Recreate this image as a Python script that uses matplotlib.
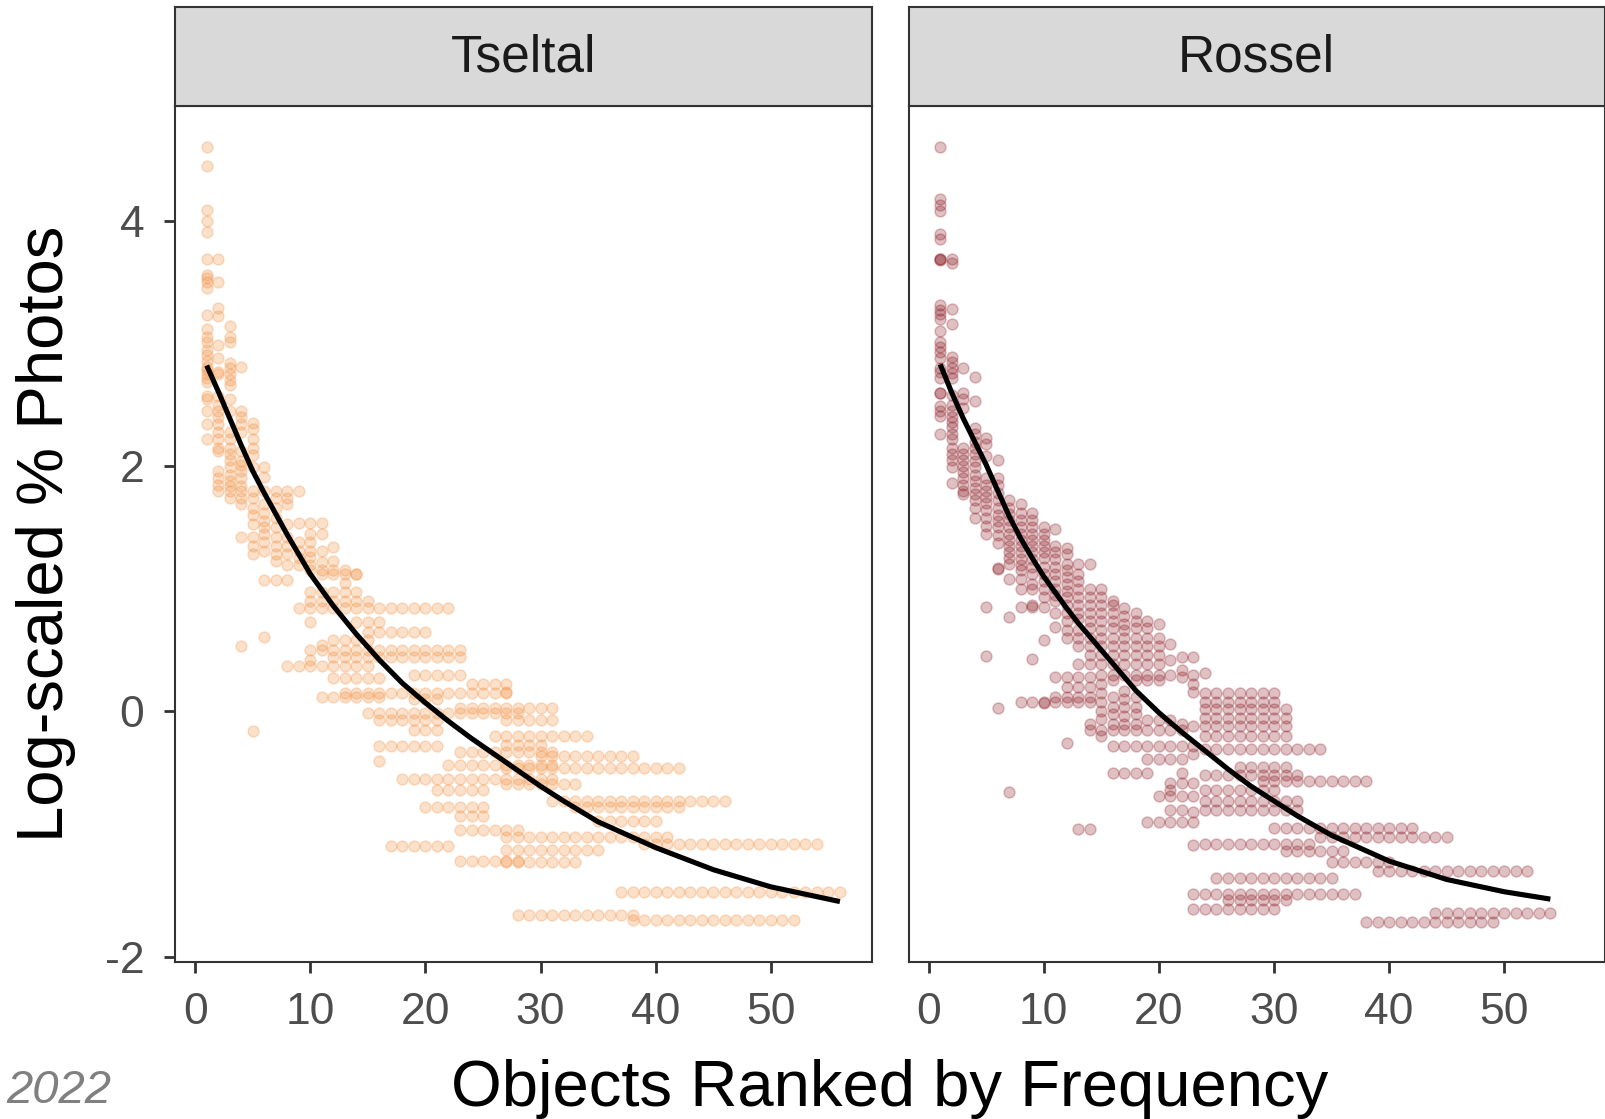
import matplotlib.pyplot as plt

plt.rcParams['font.family'] = ['Liberation Sans', 'DejaVu Sans']
plt.rcParams['axes.unicode_minus'] = False

panel_names = ['Tseltal', 'Rossel']
point_colors = ['#F3954A', '#8B1A22']
point_alpha = [0.29, 0.27]
x_ticks = [0, 10, 20, 30, 40, 50]
y_ticks = [-2, 0, 2, 4]

# Tseltal: vertical stacks for the first ranks (index 0 = rank 1)
tseltal_cols = [
    [4.60, 4.45, 4.09, 4.00, 3.91, 3.69, 3.56, 3.53, 3.50, 3.45, 3.23, 3.12, 3.05, 3.01,
     2.95, 2.91, 2.86, 2.81, 2.78, 2.75, 2.72, 2.69, 2.57, 2.55, 2.45, 2.34, 2.22],
    [3.69, 3.50, 3.29, 3.22, 2.99, 2.88, 2.77, 2.75, 2.57, 2.50, 2.45, 2.40, 2.34, 2.28,
     2.22, 2.15, 2.12, 1.96, 1.90, 1.85, 1.80],
    [3.14, 3.05, 3.01, 2.84, 2.80, 2.75, 2.70, 2.66, 2.55, 2.45, 2.28, 2.22, 2.15, 2.10,
     2.05, 1.99, 1.93, 1.88, 1.84, 1.80, 1.74],
    [2.81, 2.45, 2.40, 2.34, 2.28, 2.12, 2.04, 2.01, 1.96, 1.90, 1.84, 1.80, 1.74, 1.69,
     1.42, 0.53],
    [2.35, 2.30, 2.22, 2.15, 2.09, 1.99, 1.80, 1.74, 1.66, 1.60, 1.53, 1.42, 1.35, 1.28, -0.16],
    [1.99, 1.91, 1.80, 1.69, 1.62, 1.55, 1.50, 1.45, 1.38, 1.31, 1.07, 0.61],
    [1.80, 1.74, 1.66, 1.58, 1.50, 1.42, 1.35, 1.28, 1.23, 1.07],
    [1.80, 1.74, 1.69, 1.53, 1.42, 1.35, 1.28, 1.19, 1.07],
    [1.80, 1.54, 1.38, 1.31, 1.25, 1.19],
    [1.54, 1.45, 1.38, 1.31, 1.26, 1.19, 1.15, 0.97, 0.90, 0.73, 0.42],
    [1.54, 1.45, 1.31, 1.22, 1.15, 1.12, 0.97, 0.90, 0.54],
    [1.34, 1.23, 1.15, 1.12, 0.97, 0.90, 0.58],
    [1.15, 1.12, 1.05, 0.97, 0.90, 0.58],
    [1.12, 1.12, 0.97, 0.90, 0.73, 0.58],
    [0.90, 0.73, 0.58],
    [0.73],
]
# Tseltal: horizontal runs of tied values (value, first rank, last rank)
tseltal_rows = [
    (0.84, 9, 22), (0.65, 15, 20), (0.50, 10, 23), (0.44, 12, 23), (0.37, 8, 15),
    (0.30, 19, 23), (0.27, 12, 16), (0.22, 24, 27), (0.16, 27, 27), (0.15, 13, 27),
    (0.12, 11, 16), (0.10, 19, 21), (0.03, 23, 31), (-0.01, 15, 28), (-0.07, 16, 21),
    (-0.07, 27, 31), (-0.15, 19, 21), (-0.20, 26, 34), (-0.27, 27, 30), (-0.28, 16, 21),
    (-0.33, 23, 31), (-0.36, 30, 38), (-0.40, 16, 16), (-0.44, 22, 31), (-0.46, 27, 42),
    (-0.55, 18, 31), (-0.59, 27, 33), (-0.64, 21, 25), (-0.73, 31, 46), (-0.78, 20, 25),
    (-0.78, 33, 42), (-0.85, 23, 25), (-0.89, 35, 40), (-0.97, 23, 28), (-1.02, 27, 41),
    (-1.08, 39, 54), (-1.10, 17, 22), (-1.13, 27, 35), (-1.22, 23, 28), (-1.23, 27, 33),
    (-1.47, 37, 56), (-1.66, 28, 38), (-1.70, 38, 52),
]
tseltal_fit_rank = [1, 2, 3, 4, 5, 6, 7, 8, 9, 10, 12, 14, 16, 18, 20, 22, 24, 26, 28,
                    30, 32, 35, 40, 45, 50, 56]
tseltal_fit = [2.82, 2.61, 2.39, 2.17, 1.96, 1.78, 1.61, 1.44, 1.28, 1.12, 0.86, 0.63,
               0.42, 0.23, 0.07, -0.08, -0.22, -0.35, -0.48, -0.61, -0.73, -0.90,
               -1.11, -1.29, -1.43, -1.55]

# Rossel
rossel_cols = [
    [4.60, 4.18, 4.13, 4.08, 3.89, 3.85, 3.69, 3.69, 3.68, 3.31, 3.27, 3.24, 3.20, 3.10,
     3.01, 2.97, 2.93, 2.88, 2.80, 2.77, 2.72, 2.60, 2.60, 2.49, 2.45, 2.41, 2.26],
    [3.69, 3.66, 3.28, 3.16, 2.89, 2.85, 2.80, 2.76, 2.72, 2.58, 2.50, 2.45, 2.40, 2.36,
     2.32, 2.26, 2.22, 2.15, 2.10, 2.05, 1.99, 1.86],
    [2.80, 2.60, 2.55, 2.47, 2.15, 2.10, 2.05, 2.00, 1.95, 1.90, 1.85, 1.80, 1.77],
    [2.73, 2.53, 2.31, 2.26, 2.20, 2.15, 2.10, 2.04, 1.99, 1.93, 1.88, 1.82, 1.77, 1.72,
     1.66, 1.58],
    [2.23, 2.18, 2.08, 1.90, 1.85, 1.80, 1.75, 1.70, 1.64, 1.58, 1.51, 1.45, 0.85, 0.45],
    [2.05, 1.90, 1.85, 1.78, 1.72, 1.66, 1.60, 1.55, 1.50, 1.44, 1.37, 1.17, 1.16, 0.03],
    [1.72, 1.66, 1.61, 1.56, 1.50, 1.45, 1.40, 1.35, 1.30, 1.25, 1.20, 1.08, 0.77, -0.66],
    [1.69, 1.62, 1.56, 1.50, 1.45, 1.40, 1.35, 1.30, 1.24, 1.19, 1.15, 1.08, 1.00, 0.85, 0.08],
    [1.62, 1.56, 1.50, 1.45, 1.40, 1.35, 1.30, 1.24, 1.18, 1.12, 1.04, 1.00, 0.87, 0.85,
     0.43, 0.08],
    [1.50, 1.45, 1.40, 1.35, 1.30, 1.25, 1.18, 1.12, 1.06, 1.00, 0.93, 0.85, 0.58, 0.08, 0.07],
    [1.49, 1.35, 1.30, 1.24, 1.18, 1.12, 1.06, 1.00, 0.95, 0.90, 0.80, 0.69, 0.28, 0.12, 0.08],
    [1.33, 1.28, 1.20, 1.15, 1.10, 1.04, 0.98, 0.93, 0.87, 0.80, 0.74, 0.66, 0.60, 0.28,
     0.20, 0.12, 0.08, -0.26],
    [1.20, 1.12, 1.06, 1.00, 0.93, 0.87, 0.80, 0.75, 0.66, 0.60, 0.53, 0.39, 0.28, 0.20,
     0.12, 0.08, -0.96],
    [1.20, 1.00, 0.93, 0.87, 0.80, 0.74, 0.68, 0.60, 0.53, 0.46, 0.39, 0.28, 0.20, 0.12,
     0.08, -0.10, -0.15, -0.96],
    [1.00, 0.93, 0.87, 0.80, 0.74, 0.66, 0.60, 0.53, 0.46, 0.39, 0.30, 0.22, 0.15, 0.08,
     0.00, -0.06, -0.15, -0.20],
    [0.90, 0.87, 0.80, 0.74, 0.68, 0.60, 0.53, 0.46, 0.39, 0.30, 0.26, 0.12, 0.04, -0.02,
     -0.10, -0.15, -0.28, -0.50],
    [0.84, 0.78, 0.71, 0.66, 0.60, 0.53, 0.46, 0.39, 0.30, 0.17, 0.10, 0.04, -0.04, -0.10,
     -0.15, -0.28, -0.50],
    [0.80, 0.74, 0.68, 0.60, 0.53, 0.46, 0.39, 0.30, 0.26, 0.12, 0.04, -0.02, -0.10, -0.15,
     -0.28, -0.50],
    [0.74, 0.68, 0.60, 0.53, 0.46, 0.39, 0.30, 0.26, -0.07, -0.15, -0.28, -0.39, -0.50, -0.90],
    [0.71, 0.60, 0.53, 0.46, 0.39, 0.30, 0.26, -0.07, -0.15, -0.28, -0.39, -0.69, -0.90],
    [0.55, 0.42, 0.30, -0.07, -0.15, -0.28, -0.39, -0.58, -0.64, -0.69, -0.80, -0.90],
    [0.44, 0.34, 0.28, -0.10, -0.15, -0.28, -0.39, -0.50, -0.58, -0.69, -0.80, -0.90],
    [0.44, 0.30, 0.22, 0.16, -0.12, -0.28, -0.35, -0.58, -0.69, -0.82, -0.90, -1.09,
     -1.49, -1.61],
]
rossel_rows = [
    (0.31, 24, 24), (0.15, 24, 30), (0.08, 24, 30), (0.02, 24, 31), (-0.05, 24, 31),
    (-0.12, 24, 31), (-0.20, 24, 31), (-0.31, 24, 34), (-0.45, 27, 31), (-0.52, 24, 32),
    (-0.57, 29, 38), (-0.64, 24, 30), (-0.73, 24, 32), (-0.80, 24, 32), (-0.95, 30, 42),
    (-1.02, 34, 45), (-1.08, 24, 33), (-1.14, 31, 36), (-1.23, 35, 40), (-1.30, 39, 52),
    (-1.36, 25, 35), (-1.49, 24, 37), (-1.54, 26, 31), (-1.61, 24, 30), (-1.64, 44, 54),
    (-1.72, 38, 49),
]
rossel_fit_rank = [1, 2, 3, 4, 5, 6, 7, 8, 9, 10, 11, 12, 13, 14, 15, 16, 18, 20, 22, 24,
                   26, 28, 30, 32, 35, 40, 45, 50, 54]
rossel_fit = [2.83, 2.60, 2.39, 2.20, 2.01, 1.80, 1.59, 1.41, 1.25, 1.10, 0.97, 0.84,
              0.72, 0.61, 0.50, 0.39, 0.17, -0.01, -0.17, -0.32, -0.47, -0.61, -0.73,
              -0.85, -1.01, -1.22, -1.37, -1.47, -1.53]


def expand(cols, rows):
    xs, ys = [], []
    for rank, col in enumerate(cols, start=1):
        xs += [rank] * len(col)
        ys += col
    for value, first, last in rows:
        for rank in range(first, last + 1):
            xs.append(rank)
            ys.append(value)
    return xs, ys


data = [
    (expand(tseltal_cols, tseltal_rows), tseltal_fit_rank, tseltal_fit),
    (expand(rossel_cols, rossel_rows), rossel_fit_rank, rossel_fit),
]

fig = plt.figure(figsize=(16.06, 11.19), dpi=100)
panel_x = [0.109, 0.5657]
panel_w = 0.4337
panel_y, panel_h = 0.1406, 0.7651
strip_h = 0.0879

for i, ((xs, ys), fx, fy) in enumerate(data):
    ax = fig.add_axes([panel_x[i], panel_y, panel_w, panel_h])
    ax.scatter(xs, ys, s=62, color=point_colors[i], alpha=point_alpha[i], linewidths=1.1,
               zorder=2)
    ax.plot(fx, fy, color='black', lw=3.7, zorder=3, solid_capstyle='butt',
            solid_joinstyle='round')
    ax.set_xlim(-1.75, 58.75)
    ax.set_ylim(-2.04, 4.94)
    ax.set_xticks(x_ticks)
    ax.set_yticks(y_ticks)
    ax.tick_params(axis='both', length=8, width=2, color='#333333', labelsize=32,
                   labelcolor='#4D4D4D', pad=14)
    if i == 1:
        ax.tick_params(axis='y', left=False, labelleft=False)
    for sp in ax.spines.values():
        sp.set_color('#333333')
        sp.set_linewidth(1.5)

    sax = fig.add_axes([panel_x[i], panel_y + panel_h, panel_w, strip_h])
    sax.set_facecolor('#D9D9D9')
    sax.set_xticks([])
    sax.set_yticks([])
    for sp in sax.spines.values():
        sp.set_color('#333333')
        sp.set_linewidth(1.5)
    sax.text(0.5, 0.48, panel_names[i], ha='center', va='center', fontsize=37,
             color='#1A1A1A', transform=sax.transAxes)

fig.text(0.554, 0.0116, 'Objects Ranked by Frequency', ha='center', va='baseline',
         fontsize=47, color='black')
fig.text(0.0287, 0.523, 'Log-scaled % Photos', ha='center', va='center', rotation=90,
         fontsize=47, color='black')
fig.text(0.004, 0.014, '2022', ha='left', va='baseline', fontsize=34,
         color='#808080', style='italic')

fig.savefig('out.png', dpi=100)
